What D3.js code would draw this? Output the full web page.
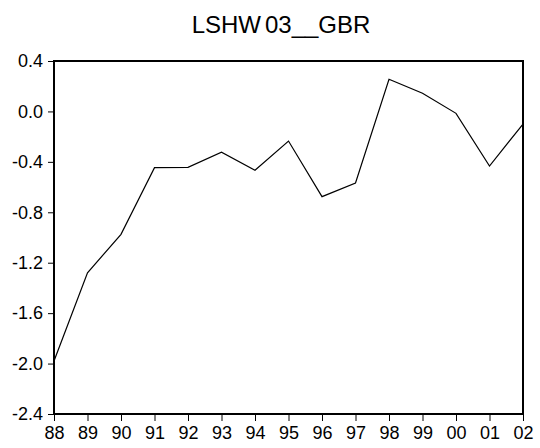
<!DOCTYPE html>
<html>
<head>
<meta charset="utf-8">
<script src="https://cdn.jsdelivr.net/npm/d3@7"></script>
<style>
  body { margin: 0; background: #fff; }
  text { font-family: "Liberation Sans", Arial, sans-serif; fill: #000; }
</style>
</head>
<body>
<div class="chart"></div>
<script>
// data
var years = [1988, 1989, 1990, 1991, 1992, 1993, 1994, 1995, 1996, 1997, 1998, 1999, 2000, 2001, 2002];
var values = [-1.98, -1.28, -0.975, -0.446, -0.443, -0.324, -0.467, -0.235, -0.676, -0.568, 0.255, 0.144, -0.015, -0.433, -0.1];
var yTicks = [-2.4, -2.0, -1.6, -1.2, -0.8, -0.4, 0.0, 0.4];
var titleParts = ["LSHW", "03__GBR"];

var svgWidth = 540;
var svgHeight = 448;

var margin = { top: 61, right: 17, bottom: 34, left: 54 };
var width = svgWidth - margin.left - margin.right;
var height = svgHeight - margin.top - margin.bottom;

var svg = d3.select(".chart")
  .append("svg")
  .attr("width", svgWidth)
  .attr("height", svgHeight);

var chartGroup = svg.append("g")
  .attr("transform", `translate(${margin.left}, ${margin.top})`);

var xScale = d3.scaleLinear()
  .domain([d3.min(years), d3.max(years)])
  .range([0, width]);

var yScale = d3.scaleLinear()
  .domain([-2.4, 0.4])
  .range([height, 0]);

// axes
var bottomAxis = d3.axisBottom(xScale)
  .tickValues(years)
  .tickSize(7)
  .tickPadding(5)
  .tickFormat(d => String(d % 100).padStart(2, "0"));

var leftAxis = d3.axisLeft(yScale)
  .tickValues(yTicks)
  .tickSize(6)
  .tickPadding(5)
  .tickFormat(d => d.toFixed(1));

var xAxis = chartGroup.append("g")
  .attr("transform", `translate(0, ${height})`)
  .call(bottomAxis);

var yAxis = chartGroup.append("g")
  .call(leftAxis);

[xAxis, yAxis].forEach(function (ax) {
  ax.select(".domain").remove();
  ax.selectAll(".tick line").attr("stroke", "#000").attr("stroke-width", 1);
  ax.selectAll("text").attr("font-size", "18px").attr("fill", "#000");
});

// data line
var line = d3.line()
  .x((d, i) => xScale(years[i]))
  .y(d => yScale(d));

chartGroup.append("path")
  .datum(values)
  .attr("d", line)
  .attr("fill", "none")
  .attr("stroke", "#000")
  .attr("stroke-width", 1.2)
  .attr("stroke-linejoin", "miter");

// frame
chartGroup.append("rect")
  .attr("x", 0)
  .attr("y", 0)
  .attr("width", width)
  .attr("height", height)
  .attr("fill", "none")
  .attr("stroke", "#000")
  .attr("stroke-width", 2);

// title (small gap after "LSHW" like the original)
var titleText = svg.append("text")
  .attr("x", 281)
  .attr("y", 33)
  .attr("text-anchor", "middle")
  .attr("font-size", "24px");

titleText.append("tspan").text(titleParts[0]);
titleText.append("tspan").attr("dx", 4).text(titleParts[1]);
</script>
</body>
</html>
